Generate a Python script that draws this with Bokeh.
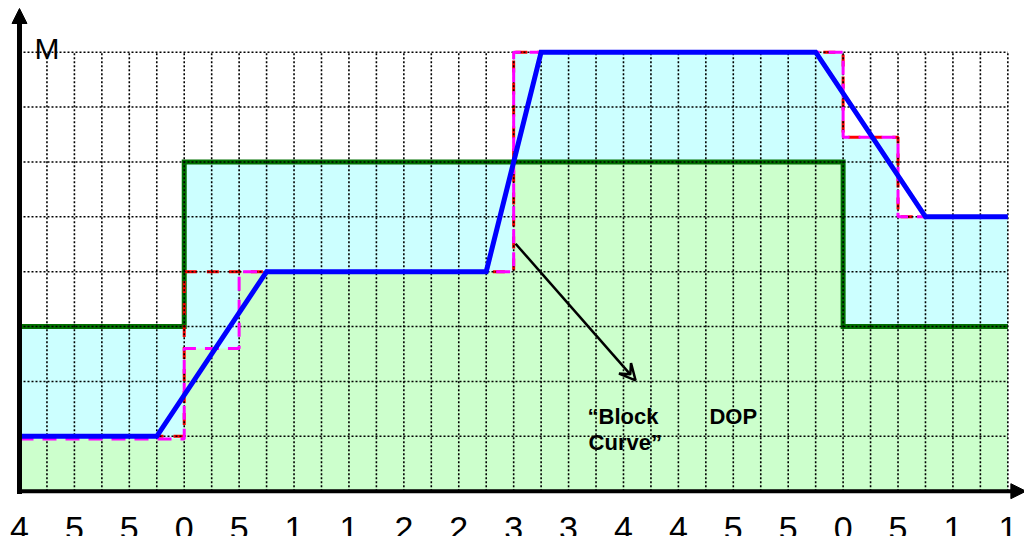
import numpy as np
from bokeh.plotting import figure
from bokeh.models import Range1d, Arrow, NormalHead, VeeHead
from bokeh.embed import file_html
from bokeh.resources import INLINE
from bokeh.core.properties import value

# ---------------- data ----------------
tick_positions = [0, 2, 4, 6, 8, 10, 12, 14, 16, 18, 20, 22, 24, 26, 28, 30, 32, 34, 36]
tick_labels = ["4", "5", "5", "0", "5", "1", "1", "2", "2", "3",
               "3", "4", "4", "5", "5", "0", "5", "1", "1"]
y_label = "M"

# DOP (dark green step line)
dop_edges = [0, 6, 30, 36]
dop_values = [3, 6, 3]

# "Block Curve" (magenta dashed step line)
block_edges = [0, 6, 8, 18, 30, 32, 36]
block_values = [0.95, 2.6, 4, 8, 6.45, 5.0]

# red dashed step line (mostly hidden)
red_edges = [0, 6, 18, 30, 32, 36]
red_values = [1, 4, 8, 6.45, 5]

# blue ramp curve
ramp_x = [0, 5, 9, 17, 19, 29, 33, 36]
ramp_y = [1, 1, 4, 4, 8, 8, 5, 5]

# annotation
callout_start = (18.07, 4.51)
callout_end = (22.44, 2.02)
note_x = [20.69, 20.73, 25.13]
note_y = [1.36, 0.89, 1.36]
note_text = ["\u201cBlock", "Curve\u201d", "DOP"]

# ---------------- helpers ----------------
def step_xy(edges, values):
    xs, ys = [], []
    for i, v in enumerate(values):
        xs += [edges[i], edges[i + 1]]
        ys += [v, v]
    return xs, ys

def step_at(edges, values, x):
    i = int(np.searchsorted(edges, x, side="right")) - 1
    i = max(0, min(i, len(values) - 1))
    return values[i]

all_edges = sorted(set(dop_edges) | set(block_edges))
upper_vals, lower_vals = [], []
for a, b in zip(all_edges[:-1], all_edges[1:]):
    m = 0.5 * (a + b)
    d = step_at(dop_edges, dop_values, m)
    k = step_at(block_edges, block_values, m)
    upper_vals.append(max(d, k))
    lower_vals.append(min(d, k))

# ---------------- figure ----------------
X0, X1 = -0.692, 36.607
Y0, Y1 = -0.8255, 8.942
Y_TIP = 8.796
p = figure(width=1024, height=536, output_backend="svg", toolbar_location=None,
           x_range=Range1d(X0, X1), y_range=Range1d(Y0, Y1),
           min_border=0, min_border_left=0, min_border_right=0,
           min_border_top=0, min_border_bottom=0)
p.axis.visible = False
p.grid.visible = False
p.outline_line_color = None
p.background_fill_color = "white"

ux, uy = step_xy(all_edges, upper_vals)
lx, ly = step_xy(all_edges, lower_vals)
p.varea(x=ux, y1=[0] * len(ux), y2=uy, fill_color="#CCFFFF")
p.varea(x=lx, y1=[0] * len(lx), y2=ly, fill_color="#CCFFCC")

# DOP line
dx, dy = step_xy(dop_edges, dop_values)
p.line(dx, dy, line_color="#007000", line_width=5, line_join="miter")

# red dashed
rx, ry = step_xy(red_edges, red_values)
p.line(rx, ry, line_color="#FF0000", line_width=3, line_dash="12 10")

# grid (dotted)
n_x = int(dop_edges[-1])
n_y = 8
for gx in range(1, n_x + 1):
    p.line([gx, gx], [0, n_y], line_color="black", line_width=1.6, line_dash="2 2")
for gy in range(1, n_y + 1):
    p.line([0, n_x], [gy, gy], line_color="black", line_width=1.6, line_dash="2 2")

# block curve
bx, by = step_xy(block_edges, block_values)
p.line(bx, by, line_color="#FF00FF", line_width=3, line_dash="14 9")

# blue ramp
p.line(ramp_x, ramp_y, line_color="#0000FF", line_width=5, line_join="miter")

# axes
p.line([0, 0], [-0.05, 8.55], line_color="black", line_width=5)
p.add_layout(Arrow(x_start=0, y_start=8.5, x_end=0, y_end=Y_TIP,
                   line_alpha=0,
                   end=NormalHead(size=15, fill_color="black", line_color="black")))
p.line([-0.09, 36.5], [0, 0], line_color="black", line_width=4)
p.add_layout(Arrow(x_start=36.3, y_start=0, x_end=X1 + 0.05, y_end=0,
                   line_alpha=0,
                   end=NormalHead(size=15, fill_color="black", line_color="black")))

# callout arrow
p.add_layout(Arrow(x_start=callout_start[0], y_start=callout_start[1],
                   x_end=callout_end[0], y_end=callout_end[1],
                   line_color="black", line_width=2.5,
                   end=VeeHead(size=16, line_color="black", line_width=2.5, fill_alpha=0)))

# texts
p.text(x=note_x, y=note_y, text=note_text, text_font=value("Liberation Sans"),
       text_font_size="22px", text_font_style="bold", text_color="black",
       text_align="left", text_baseline="alphabetic")

p.text(x=[0.55], y=[8.06], text=[y_label], text_font=value("Liberation Sans"),
       text_font_size="30px", text_color="black",
       text_align="left", text_baseline="alphabetic")

p.text(x=tick_positions, y=[0] * len(tick_positions), text=tick_labels,
       y_offset=37, text_font=value("Liberation Sans"), text_font_size="34px",
       text_color="black", text_align="center", text_baseline="alphabetic")

open("out.html", "w").write(file_html(p, INLINE))
